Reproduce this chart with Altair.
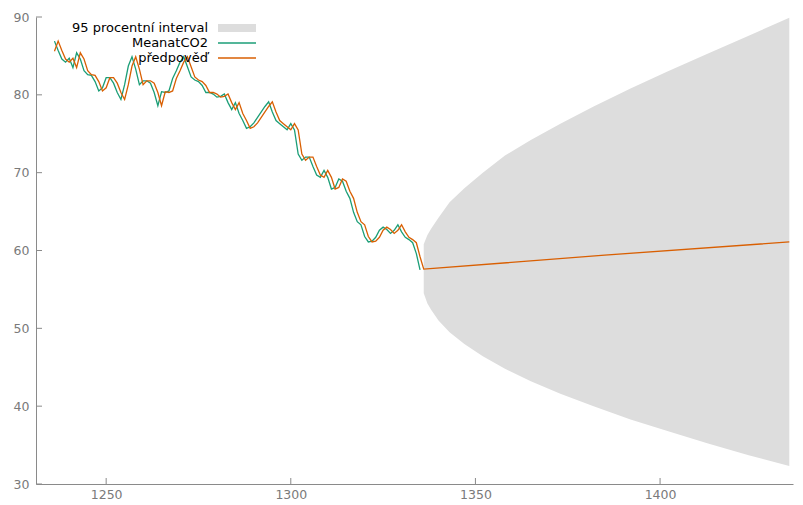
import altair as alt
import pandas as pd

# ---- data ----
years = list(range(1236, 1336))
meanat = [86.9, 85.7, 84.6, 84.2, 84.7, 83.5, 85.4, 84.6, 83.1, 82.6,
          82.5, 81.7, 80.5, 80.9, 82.2, 82.2, 81.5, 80.3, 79.4, 81.3,
          83.7, 84.9, 83.3, 81.3, 81.8, 81.8, 81.5, 80.3, 78.6, 80.4,
          80.3, 80.5, 82.1, 83.1, 84.2, 84.9, 83.6, 82.3, 81.9, 81.7,
          81.2, 80.3, 80.3, 80.1, 79.7, 79.8, 80.1, 79.0, 78.1, 79.0,
          77.6, 76.7, 75.7, 75.9, 76.4, 77.1, 77.8, 78.5, 79.1, 77.8,
          76.7, 76.3, 75.9, 75.5, 76.3, 75.5, 72.4, 71.6, 72.0, 72.0,
          70.8, 69.7, 69.4, 70.3, 69.4, 67.9, 68.1, 69.2, 68.9, 67.6,
          66.7, 64.9, 63.7, 63.3, 61.8, 61.1, 61.2, 61.7, 62.6, 63.0,
          62.7, 62.2, 62.6, 63.3, 62.4, 61.7, 61.4, 61.0, 59.6, 57.5]
pred = [85.6, 86.9, 85.7, 84.6, 84.2, 84.7, 83.5, 85.4, 84.6, 83.1,
        82.6, 82.5, 81.7, 80.5, 80.9, 82.2, 82.2, 81.5, 80.3, 79.4,
        81.3, 83.7, 84.9, 83.3, 81.3, 81.8, 81.8, 81.5, 80.3, 78.6,
        80.4, 80.3, 80.5, 82.1, 83.1, 84.2, 84.9, 83.6, 82.3, 81.9,
        81.7, 81.2, 80.3, 80.3, 80.1, 79.7, 79.8, 80.1, 79.0, 78.1,
        79.0, 77.6, 76.7, 75.7, 75.9, 76.4, 77.1, 77.8, 78.5, 79.1,
        77.8, 76.7, 76.3, 75.9, 75.5, 76.3, 75.5, 72.4, 71.6, 72.0,
        72.0, 70.8, 69.7, 69.4, 70.3, 69.4, 67.9, 68.1, 69.2, 68.9,
        67.6, 66.7, 64.9, 63.7, 63.3, 61.8, 61.1, 61.2, 61.7, 62.6,
        63.0, 62.7, 62.2, 62.6, 63.3, 62.4, 61.7, 61.4, 61.0, 59.2]
fc_years = [1336, 1385, 1435]
fc_vals = [57.6, 59.4, 61.1]
band_years = [1336, 1337, 1338, 1340, 1343, 1347, 1352, 1358, 1365, 1373,
              1382, 1392, 1402, 1413, 1424, 1435]
band_lo = [54.5, 53.2, 52.4, 51.0, 49.5, 48.0, 46.4, 44.8, 43.2, 41.6,
           40.0, 38.3, 36.8, 35.2, 33.7, 32.3]
band_hi = [60.8, 62.0, 62.8, 64.2, 66.2, 68.0, 70.0, 72.2, 74.2, 76.3,
           78.5, 80.8, 83.0, 85.3, 87.6, 89.9]
legend_labels = ["95 procentní interval", "MeanatCO2", "předpověď"]
x_ticks = [1250, 1300, 1350, 1400]
y_ticks = [30, 40, 50, 60, 70, 80, 90]

GREEN = "#1b9e77"
ORANGE = "#d95f02"
SHADE = "#dddddd"
AXIS = "#8a8a8a"
FONT = "DejaVu Sans"

W, H = 757, 467

xs = alt.Scale(domain=[1231, 1436], nice=False, zero=False)
ys = alt.Scale(domain=[30, 90], nice=False, zero=False)

xaxis = alt.Axis(values=x_ticks, title=None, grid=False, tickSize=0,
                 labelPadding=4, domainColor=AXIS, labelColor="#7a7a7a",
                 labelFont=FONT, labelFontSize=12.5, format="d")
yaxis = alt.Axis(values=y_ticks, title=None, grid=False, tickSize=0,
                 labelPadding=7, domainColor=AXIS, labelColor="#7a7a7a",
                 labelFont=FONT, labelFontSize=12.5)


def X(field):
    return alt.X(field, scale=xs, axis=xaxis)


def Y(field):
    return alt.Y(field, scale=ys, axis=yaxis)


obs_df = pd.DataFrame({"t": years, "v": meanat})
pred_df = pd.DataFrame({"t": years + fc_years, "v": pred + fc_vals})
band_df = pd.DataFrame({"t": band_years, "lo": band_lo, "hi": band_hi})

band = alt.Chart(band_df).mark_area(color=SHADE, opacity=1).encode(
    x=X("t:Q"), y=Y("lo:Q"), y2="hi:Q",
)
obs_line = alt.Chart(obs_df).mark_line(color=GREEN, strokeWidth=1.3).encode(
    x=X("t:Q"), y=Y("v:Q"),
)
pred_line = alt.Chart(pred_df).mark_line(color=ORANGE, strokeWidth=1.3).encode(
    x=X("t:Q"), y=Y("v:Q"),
)

# inward tick marks
xt = alt.Chart(pd.DataFrame({"t": x_ticks})).mark_rule(color=AXIS).encode(
    x=X("t:Q"), y=alt.value(H), y2=alt.value(H - 6),
)
yt = alt.Chart(pd.DataFrame({"v": y_ticks})).mark_rule(color=AXIS).encode(
    y=Y("v:Q"), x=alt.value(0), x2=alt.value(6),
)

# legend (labels on the left, keys on the right)
one = pd.DataFrame({"k": [0]})
leg_rect = alt.Chart(one).mark_rect(color=SHADE).encode(
    x=alt.value(182), x2=alt.value(220), y=alt.value(7), y2=alt.value(15))
leg_g = alt.Chart(one).mark_rule(color=GREEN, strokeWidth=1.3).encode(
    x=alt.value(182), x2=alt.value(220), y=alt.value(26))
leg_o = alt.Chart(one).mark_rule(color=ORANGE, strokeWidth=1.3).encode(
    x=alt.value(182), x2=alt.value(220), y=alt.value(41))
texts = []
for i, lbl in enumerate(legend_labels):
    texts.append(
        alt.Chart(pd.DataFrame({"label": [lbl]})).mark_text(
            align="right", baseline="middle", font=FONT, fontSize=13,
            color="#000000").encode(
            x=alt.value(172), y=alt.value(11 + 15 * i), text="label:N")
    )

chart = alt.layer(band, obs_line, pred_line, xt, yt,
                  leg_rect, leg_g, leg_o, *texts).properties(
    width=W, height=H,
    background="white",
    padding={"left": 28, "top": 9, "right": 2, "bottom": 19},
    autosize=alt.AutoSizeParams(type="none"),
).configure_view(stroke=None)

chart.save("out.html", embed_options={"renderer": "svg", "actions": False})
